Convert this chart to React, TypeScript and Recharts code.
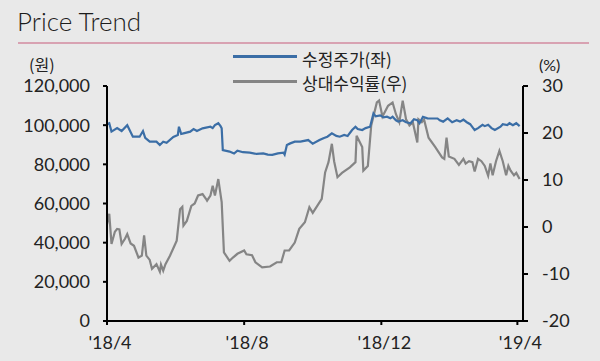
import React from "react";
import { LineChart, Line, XAxis, YAxis } from "recharts";

// Days since 2018-04-01
const priceDays = [0, 2, 4, 9, 13, 18, 23, 29, 32, 34, 38, 44, 47, 50, 53, 59, 63, 64, 66, 68, 74, 77, 80, 85, 92, 94, 96, 99, 101, 102, 103, 109, 113, 116, 121, 127, 133, 139, 143, 147, 152, 157, 158, 160, 163, 167, 172, 179, 183, 189, 193, 196, 200, 204, 207, 211, 214, 218, 221, 223, 227, 230, 234, 237, 239, 243, 246, 249, 252, 254, 257, 259, 263, 266, 270, 273, 276, 278, 281, 285, 287, 294, 296, 299, 303, 307, 311, 314, 317, 320, 323, 327, 330, 334, 336, 339, 342, 345, 350, 352, 356, 358, 361, 364, 367];
const priceValues = [100500, 101000, 96700, 98500, 97000, 100000, 94100, 94100, 97000, 93500, 91600, 91600, 89900, 91500, 91000, 94000, 95000, 99200, 95500, 95800, 96700, 98000, 97000, 98400, 99200, 98500, 100000, 101000, 99500, 98400, 87300, 86500, 85500, 87000, 86200, 86000, 85300, 85600, 85000, 84800, 85600, 86000, 85000, 89900, 90700, 91600, 91600, 92400, 90500, 92400, 93500, 94100, 95800, 94500, 94100, 95000, 94500, 97500, 99200, 98000, 97500, 98500, 99200, 106000, 104500, 105000, 104000, 104300, 103500, 104300, 102500, 101800, 102500, 101500, 101000, 103000, 102500, 101000, 104300, 103500, 103400, 103400, 102500, 101800, 103500, 101500, 102500, 101800, 102800, 101500, 100500, 97500, 98500, 100200, 99500, 100200, 98500, 97500, 99200, 100500, 100000, 101000, 100000, 101000, 99500];

const relDays = [0, 2, 4, 7, 9, 11, 13, 16, 18, 21, 24, 28, 31, 33, 35, 38, 40, 44, 47, 48, 50, 52, 56, 60, 62, 65, 67, 68, 71, 75, 78, 81, 85, 88, 89, 92, 94, 96, 99, 102, 104, 109, 112, 116, 122, 124, 129, 132, 138, 145, 151, 155, 158, 162, 167, 171, 176, 180, 183, 187, 191, 194, 197, 200, 202, 205, 209, 216, 221, 222, 227, 228, 232, 235, 240, 242, 245, 250, 254, 257, 260, 263, 266, 269, 272, 276, 277, 280, 282, 286, 292, 298, 300, 302, 304, 309, 313, 317, 319, 322, 325, 327, 330, 333, 336, 339, 341, 343, 346, 349, 352, 355, 357, 359, 362, 364, 367];
const relValues = [0.6, 2.8, -3.6, -1.0, -0.4, -0.5, -3.6, -2.5, -1.5, -3.5, -4.0, -6.5, -6.1, -1.8, -6.1, -7.0, -8.9, -7.9, -9.5, -8.0, -9.3, -7.9, -6.1, -4.0, -2.9, 3.8, 4.3, 0.3, 1.3, 4.5, 5.0, 6.7, 7.0, 6.0, 5.6, 6.7, 8.8, 6.7, 10.2, 5.3, -5.4, -7.2, -6.5, -5.7, -5.0, -5.8, -6.0, -7.5, -8.6, -8.4, -7.5, -7.5, -5.0, -5.0, -3.3, -0.4, 1.0, 4.2, 3.0, 4.5, 6.0, 11.6, 13.8, 17.7, 14.0, 10.6, 11.5, 12.7, 13.8, 19.4, 17.0, 12.0, 13.0, 21.6, 26.5, 26.9, 23.5, 25.8, 26.5, 24.0, 22.3, 26.9, 22.9, 21.6, 22.3, 18.0, 22.9, 22.3, 22.9, 19.0, 17.0, 14.8, 14.5, 19.0, 15.0, 14.5, 13.2, 14.5, 13.5, 14.0, 13.8, 11.8, 14.5, 14.0, 13.0, 10.9, 13.5, 11.0, 14.0, 16.2, 14.0, 11.0, 13.0, 12.0, 11.0, 11.5, 10.2];

const xTickDays = [0, 122, 244, 365];
const xTickLabels = ["'18/4", "'18/8", "'18/12", "'19/4"];
const leftTicks = [0, 20000, 40000, 60000, 80000, 100000, 120000];
const rightTicks = [-20, -10, 0, 10, 20, 30];

const seriesNames = ["수정주가(좌)", "상대수익률(우)"];
const title = "Price Trend";
const leftUnit = "(원)";
const rightUnit = "(%)";

const priceData = priceDays.map((d, i) => ({ day: d, v: priceValues[i] }));
const relData = relDays.map((d, i) => ({ day: d, v: relValues[i] }));

const BLUE = "#3b6ea6";
const GRAY = "#858585";
const TICK_FONT = "Lato, 'Noto Sans', sans-serif";

export default function App() {
  const tickStyle = { fill: "#222", fontSize: 18, fontFamily: TICK_FONT };
  return (
    <div
      style={{
        position: "absolute",
        left: 0,
        top: 0,
        width: 600,
        height: 361,
        background: "#e9e9e9",
        fontFamily: "'Noto Sans CJK KR', Lato, sans-serif",
        overflow: "hidden",
      }}
    >
      <div
        style={{
          position: "absolute",
          left: 17,
          top: 3,
          fontSize: 26,
          fontFamily: TICK_FONT,
          fontWeight: 300,
          color: "#1c1c1c",
          lineHeight: "36px",
        }}
      >
        {title}
      </div>
      <div
        style={{
          position: "absolute",
          left: 18,
          top: 42,
          width: 571,
          height: 2,
          background: "#d8a2b2",
        }}
      />
      <div
        style={{
          position: "absolute",
          left: 29,
          top: 55,
          fontSize: 16,
          color: "#222",
          lineHeight: "18px",
        }}
      >
        {leftUnit}
      </div>
      <div
        style={{
          position: "absolute",
          left: 539,
          top: 56,
          fontSize: 16,
          fontFamily: TICK_FONT,
          color: "#222",
          lineHeight: "18px",
        }}
      >
        {rightUnit}
      </div>
      {[BLUE, GRAY].map((c, i) => (
        <React.Fragment key={i}>
          <div
            style={{
              position: "absolute",
              left: 233,
              top: 56 + i * 25 - 1,
              width: 64,
              height: 3,
              background: c,
            }}
          />
          <div
            style={{
              position: "absolute",
              left: 302,
              top: 47 + i * 24,
              fontSize: 17,
              color: "#222",
              lineHeight: "24px",
              whiteSpace: "nowrap",
            }}
          >
            {seriesNames[i]}
          </div>
        </React.Fragment>
      ))}
      <div style={{ position: "absolute", left: 0, top: 0 }}>
        <LineChart
          width={600}
          height={361}
          margin={{ top: 86, right: 0, bottom: 6, left: 0 }}
        >
          <XAxis
            dataKey="day"
            type="number"
            domain={[0, 370]}
            ticks={xTickDays}
            tickFormatter={(v: number) => xTickLabels[xTickDays.indexOf(v)] ?? ""}
            allowDataOverflow
            height={34}
            axisLine={{ stroke: "#000", strokeWidth: 2 }}
            tickLine={{ stroke: "#000", strokeWidth: 2 }}
            tickSize={4}
            tickMargin={11}
            tick={{ ...tickStyle, dx: 3 }}
          />
          <YAxis
            yAxisId="left"
            orientation="left"
            width={107}
            domain={[0, 120000]}
            ticks={leftTicks}
            tickFormatter={(v: number) => v.toLocaleString("en-US")}
            axisLine={{ stroke: "#000", strokeWidth: 2 }}
            tickLine={{ stroke: "#000", strokeWidth: 2 }}
            tickSize={4}
            tickMargin={13}
            tick={tickStyle}
            allowDataOverflow
          />
          <YAxis
            yAxisId="right"
            orientation="right"
            width={77}
            domain={[-20, 30]}
            ticks={rightTicks}
            axisLine={{ stroke: "#000", strokeWidth: 2 }}
            tickLine={{ stroke: "#000", strokeWidth: 2 }}
            tickSize={5}
            tickMargin={14}
            tick={tickStyle}
            allowDataOverflow
          />
          <Line
            yAxisId="right"
            data={relData}
            dataKey="v"
            type="linear"
            stroke={GRAY}
            strokeWidth={2.2}
            dot={false}
            isAnimationActive={false}
          />
          <Line
            yAxisId="left"
            data={priceData}
            dataKey="v"
            type="linear"
            stroke={BLUE}
            strokeWidth={2.2}
            dot={false}
            isAnimationActive={false}
          />
        </LineChart>
      </div>
    </div>
  );
}
